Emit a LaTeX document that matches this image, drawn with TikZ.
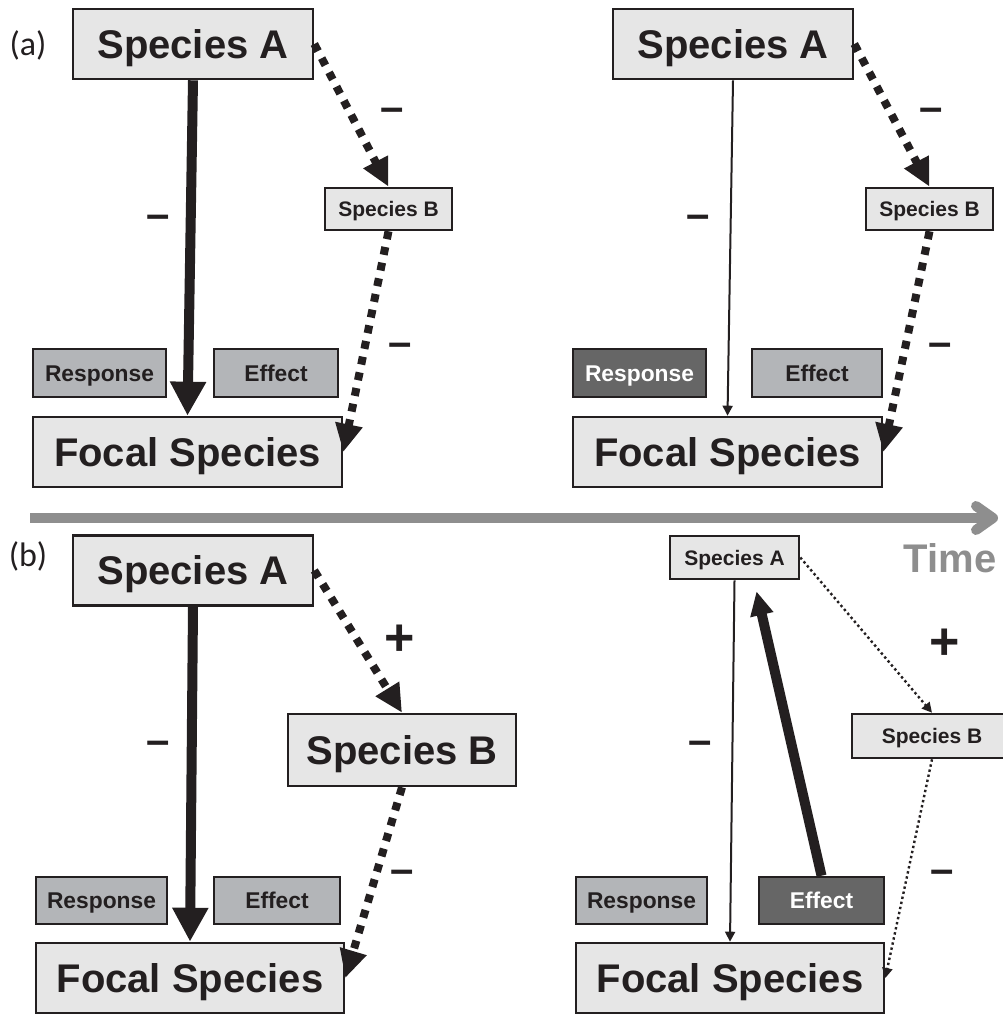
\documentclass[tikz,border=0pt]{standalone}
\usepackage{fontspec}
\setmainfont{Liberation Sans}
\newfontfamily\panelfont{Carlito}
\usetikzlibrary{arrows.meta}

\definecolor{boxfill}{HTML}{E6E6E6}
\definecolor{midfill}{HTML}{B3B5B8}
\definecolor{darkfill}{HTML}{666666}
\definecolor{ink}{HTML}{231F20}
\definecolor{timegray}{HTML}{8E8E8E}

\tikzset{
    box/.style={draw=ink, line width=1.3pt, fill=boxfill, text=ink, inner sep=0pt, text depth=0pt},
    bigbox/.style={box, minimum width=120pt, minimum height=35pt, text height=14.3pt,
        font=\fontsize{20}{24}\selectfont\bfseries},
    smallbox/.style={box, minimum width=64pt, minimum height=21.5pt, text height=7.5pt,
        font=\fontsize{10.5}{12}\selectfont\bfseries},
    traitbox/.style={box, fill=midfill, minimum width=65pt, minimum height=24pt, text height=8.2pt,
        font=\fontsize{11.4}{13}\selectfont\bfseries},
    strongtrait/.style={traitbox, fill=darkfill, text=white},
    sign/.style={text=ink, inner sep=0pt, font=\fontsize{21}{22}\selectfont\bfseries},
    plus/.style={text=ink, inner sep=0pt, font=\fontsize{26}{28}\selectfont\bfseries},
    panel/.style={text=ink, inner sep=0pt, font=\panelfont\fontsize{17}{20}\selectfont},
    strong/.style={draw=ink, line width=5pt, -{Triangle[length=17pt,width=17pt]}},
    weak/.style={draw=ink, line width=1pt, -{Triangle[length=5pt,width=5pt]}},
    indirect/.style={draw=ink, line width=4pt, dash pattern=on 4pt off 4pt,
        -{Triangle[length=14pt,width=13pt]}},
    faint/.style={draw=ink, line width=1.2pt, dash pattern=on 1.2pt off 1.4pt,
        -{Triangle[length=5pt,width=5pt]}},
}

\begin{document}
\begin{tikzpicture}[x=0.5pt, y=-0.5pt]
    \useasboundingbox (0,0) rectangle (1002,1015);

    % Panel labels
    \node[panel] (pa) at (28,45) {(a)};
    \node[panel] (pb) at (28,556) {(b)};

    % (a) before: strong direct effect
    \node[bigbox] (aLA) at (193,44) {Species A};
    \node[smallbox, minimum width=63.5pt, minimum height=21pt] (aLB) at (388.5,209) {Species B};
    \node[traitbox, minimum width=66.5pt] (aLR) at (99.5,373) {Response};
    \node[traitbox, minimum width=62pt] (aLE) at (276,373) {Effect};
    \node[bigbox, minimum width=154.5pt] (aLF) at (187.5,452) {Focal Species};

    \draw[strong] (aLA.south) -- (aLF.north);
    \draw[indirect] (aLA.east) -- (aLB.north);
    \draw[indirect] (aLB.south) -- (aLF.east);

    \node[sign] (aLs1) at (392,115) {–};
    \node[sign] (aLs2) at (158,222) {–};
    \node[sign] (aLs3) at (400,350) {–};

    % (a) after: response shifts
    \node[bigbox] (aRA) at (733,44) {Species A};
    \node[smallbox, minimum width=63.5pt, minimum height=21pt] (aRB) at (929.5,209) {Species B};
    \node[strongtrait, minimum width=66.5pt] (aRR) at (639.5,373) {Response};
    \node[traitbox] (aRE) at (817,373) {Effect};
    \node[bigbox, minimum width=154.5pt] (aRF) at (727.5,452) {Focal Species};

    \draw[weak] (aRA.south) -- (aRF.north);
    \draw[indirect] (aRA.east) -- (aRB.north);
    \draw[indirect] (aRB.south) -- (aRF.east);

    \node[sign] (aRs1) at (931,115) {–};
    \node[sign] (aRs2) at (698,222) {–};
    \node[sign] (aRs3) at (940,350) {–};

    % Time axis
    \coordinate (t0) at (30,518);
    \coordinate (t1) at (998,518);
    \draw[timegray, line width=5pt, -{Straight Barb[length=8.5pt,width=12pt,round]}] (t0) -- (t1);
    \node[text=timegray, inner sep=0pt, font=\fontsize{20}{24}\selectfont\bfseries] (time) at (950,558) {Time};

    % (b) before: positive link via Species B
    \node[bigbox] (bLA) at (193,570.5) {Species A};
    \node[bigbox, minimum width=114pt, minimum height=36pt] (bLB) at (402,750) {Species B};
    \node[traitbox, minimum width=65.5pt, minimum height=23.5pt] (bLR) at (101.5,900.5) {Response};
    \node[traitbox, minimum width=63pt, minimum height=23.5pt] (bLE) at (277,900.5) {Effect};
    \node[bigbox, minimum width=154pt] (bLF) at (190,978) {Focal Species};

    \draw[strong] (bLA.south) -- (bLF.north);
    \draw[indirect] (bLA.east) -- (bLB.north);
    \draw[indirect] (bLB.south) -- (bLF.east);

    \node[plus] (bLs1) at (400,640) {+};
    \node[sign] (bLs2) at (158,748) {–};
    \node[sign] (bLs3) at (402,877) {–};

    % (b) after: effect feeds back on Species A
    \node[smallbox, minimum width=64.5pt] (bRA) at (734.5,557.5) {Species A};
    \node[smallbox, minimum width=80pt, minimum height=22pt] (bRB) at (932,736) {Species B};
    \node[traitbox, minimum width=65.5pt, minimum height=23.5pt] (bRR) at (641.5,900.5) {Response};
    \node[strongtrait, minimum width=62.5pt, minimum height=23.5pt] (bRE) at (821.5,900.5) {Effect};
    \node[bigbox, minimum width=154pt] (bRF) at (730,978) {Focal Species};

    \coordinate (bRtip) at ([shift={(22,11)}]bRA.south);
    \draw[weak] (bRA.south) -- (bRF.north);
    \draw[draw=ink, line width=5pt, -{Triangle[length=12pt,width=11pt]}] (bRE.north) -- (bRtip);
    \draw[faint] (bRA.east) -- (bRB.north);
    \draw[faint] (bRB.south) -- (bRF.east);

    \node[plus] (bRs1) at (945,644) {+};
    \node[sign] (bRs2) at (700,748) {–};
    \node[sign] (bRs3) at (942,877) {–};
\end{tikzpicture}
\end{document}
